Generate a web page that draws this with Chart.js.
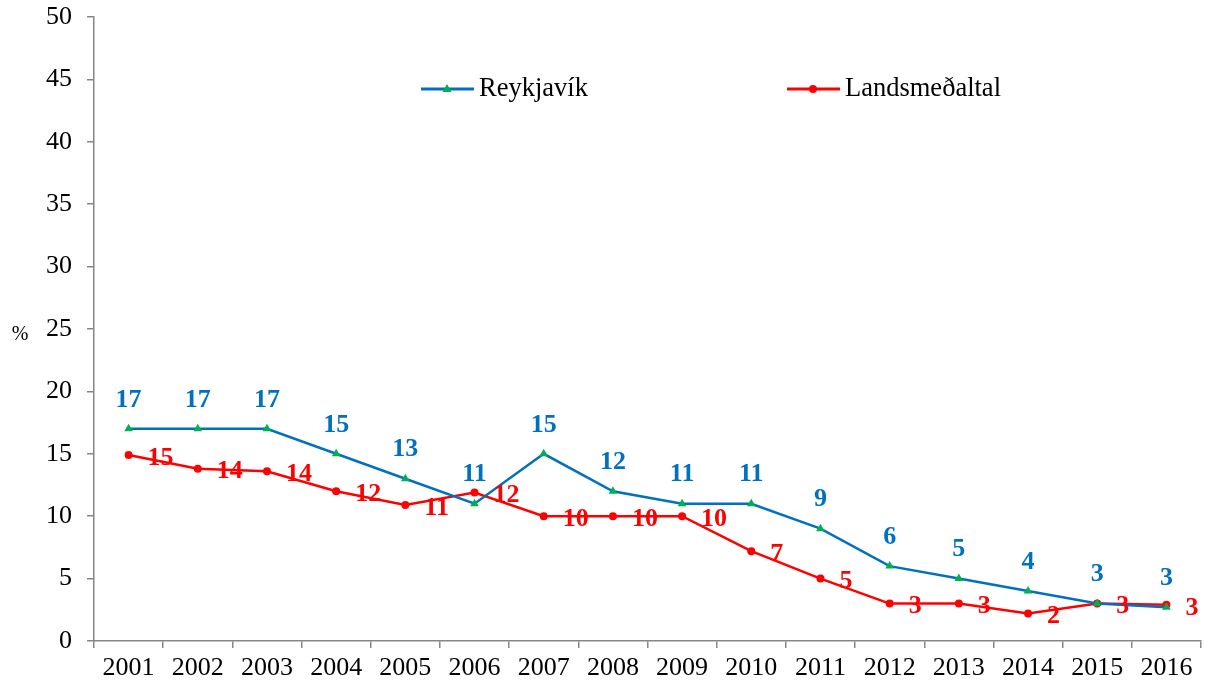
<!DOCTYPE html>
<html>
<head>
<meta charset="utf-8">
<style>
  html, body { margin: 0; padding: 0; background: #fff; }
  #wrap { width: 1208px; height: 685px; }
</style>
<script src="https://cdn.jsdelivr.net/npm/chart.js@4.4.1/dist/chart.umd.min.js"></script>
</head>
<body>
<div id="wrap"><canvas id="lineChart"></canvas></div>
<script>
const years = ["2001", "2002", "2003", "2004", "2005", "2006", "2007", "2008",
  "2009", "2010", "2011", "2012", "2013", "2014", "2015", "2016"];
const reykjavik = [17, 17, 17, 15, 13, 11, 15, 12, 11, 11, 9, 6, 5, 4, 3, 2.7];
const landsmedaltal = [14.9, 13.8, 13.6, 12, 10.9, 11.9, 10, 10, 10, 7.2, 5, 3, 3, 2.2, 3, 2.9];
const yTicks = [0, 5, 10, 15, 20, 25, 30, 35, 40, 45, 50];

const serif = "'Liberation Serif', 'Times New Roman', serif";
const blue = "#0070C0";
const green = "#00B050";
const red = "#FF0000";
const axisGray = "#868686";

// value labels, legend and the "%" axis title
const extrasPlugin = {
  id: "extras",
  afterDatasetsDraw(chart) {
    const ctx = chart.ctx;
    ctx.save();
    ctx.font = "bold 26px " + serif;
    ctx.textBaseline = "middle";

    ctx.textAlign = "center";
    ctx.fillStyle = blue;
    chart.getDatasetMeta(0).data.forEach((pt, i) => {
      ctx.fillText(String(Math.round(reykjavik[i])), pt.x, pt.y - 29);
    });
    ctx.textAlign = "left";
    ctx.fillStyle = red;
    chart.getDatasetMeta(1).data.forEach((pt, i) => {
      ctx.fillText(String(Math.round(landsmedaltal[i])), pt.x + 19, pt.y + 3);
    });

    // legend
    const legendItems = [
      { text: "Reykjavík", x: 421, color: blue, marker: "triangle", mcolor: green },
      { text: "Landsmeðaltal", x: 787, color: red, marker: "circle", mcolor: red }
    ];
    const ly = 89;
    legendItems.forEach(item => {
      ctx.strokeStyle = item.color;
      ctx.lineWidth = 3;
      ctx.beginPath();
      ctx.moveTo(item.x, ly);
      ctx.lineTo(item.x + 53, ly);
      ctx.stroke();
      const mx = item.x + 26;
      ctx.fillStyle = item.mcolor;
      ctx.beginPath();
      if (item.marker === "triangle") {
        ctx.moveTo(mx, ly - 5);
        ctx.lineTo(mx + 4.5, ly + 3);
        ctx.lineTo(mx - 4.5, ly + 3);
        ctx.closePath();
      } else {
        ctx.arc(mx, ly, 4, 0, Math.PI * 2);
      }
      ctx.fill();
      ctx.fillStyle = "#000";
      ctx.font = "26.5px " + serif;
      ctx.textAlign = "left";
      ctx.fillText(item.text, item.x + 58, ly);
    });

    ctx.font = "20px " + serif;
    ctx.textAlign = "center";
    ctx.fillStyle = "#000";
    ctx.fillText("%", 20, 335);
    ctx.restore();
  }
};

const lineChartData = {
  labels: years,
  datasets: [
    {
      label: "Reykjavík",
      data: reykjavik,
      borderColor: blue,
      backgroundColor: green,
      borderWidth: 2.5,
      pointStyle: "triangle",
      pointRadius: 5,
      pointBorderWidth: 0,
      pointBackgroundColor: green,
      tension: 0,
    },
    {
      label: "Landsmeðaltal",
      data: landsmedaltal,
      borderColor: red,
      backgroundColor: red,
      borderWidth: 2.5,
      pointStyle: "circle",
      pointRadius: 4,
      pointBorderWidth: 0,
      pointBackgroundColor: red,
      tension: 0,
    },
  ],
};

const lineChartConfig = {
  type: "line",
  data: lineChartData,
  plugins: [extrasPlugin],
  options: {
    responsive: true,
    maintainAspectRatio: false,
    animation: false,
    layout: { padding: { top: 17, right: 7, left: 0, bottom: 0 } },
    plugins: {
      legend: { display: false },
      tooltip: { enabled: false },
    },
    scales: {
      x: {
        offset: true,
        grid: {
          offset: true,
          drawOnChartArea: false,
          drawTicks: true,
          tickLength: 7,
          color: axisGray,
          lineWidth: 1.5,
        },
        border: { display: true, color: axisGray, width: 1.5 },
        ticks: {
          color: "#000",
          font: { family: serif, size: 26 },
          padding: 5,
          maxRotation: 0,
          autoSkip: false,
        },
        afterFit(scale) {
          scale.height = 44;
          scale.paddingLeft = 0;
          scale.paddingRight = 0;
        },
      },
      y: {
        min: 0,
        max: 50,
        afterBuildTicks(scale) {
          scale.ticks = yTicks.map(v => ({ value: v }));
        },
        grid: {
          drawOnChartArea: false,
          drawTicks: true,
          tickLength: 7,
          color: axisGray,
          lineWidth: 1.5,
        },
        border: { display: true, color: axisGray, width: 1.5 },
        ticks: {
          color: "#000",
          font: { family: serif, size: 26 },
          padding: 15,
        },
        afterFit(scale) {
          scale.width = 94;
          scale.paddingTop = 0;
          scale.paddingBottom = 0;
        },
      },
    },
  },
};

const myLineChart = new Chart(
  document.getElementById("lineChart"),
  lineChartConfig
);
</script>
</body>
</html>
